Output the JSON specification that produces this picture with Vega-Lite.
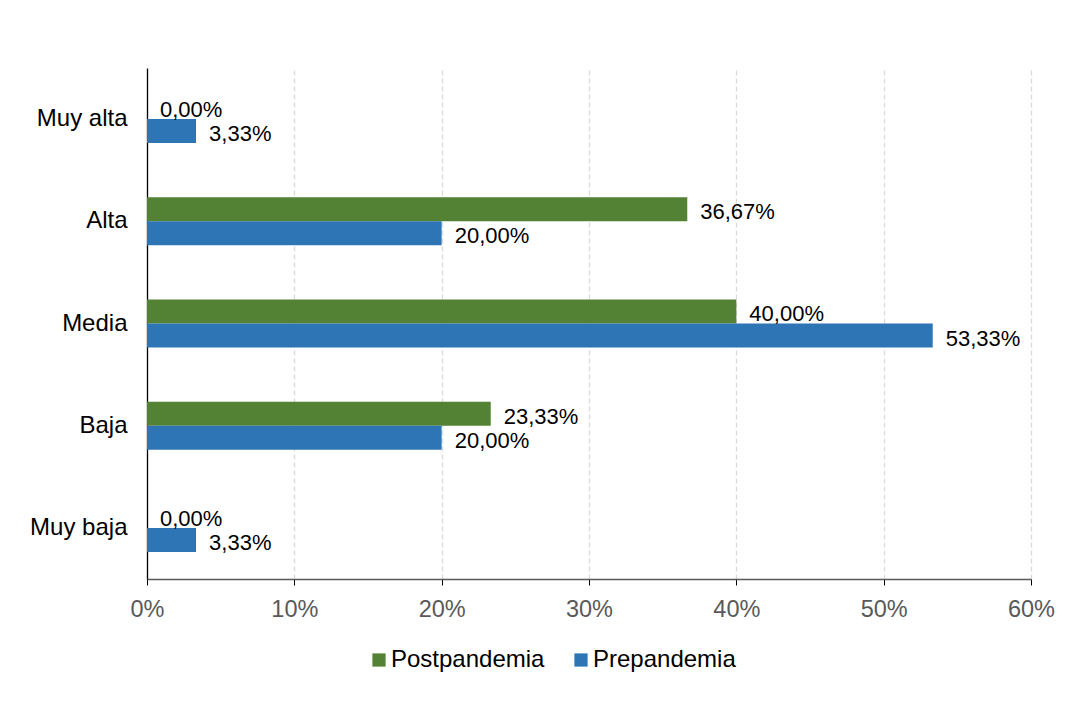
{
  "$schema": "https://vega.github.io/schema/vega-lite/v6.json",
  "width": 884,
  "height": 511,
  "autosize": {"type": "none"},
  "padding": {"left": 147, "top": 68, "right": 36, "bottom": 134},
  "background": "white",
  "config": {
    "font": "Liberation Sans",
    "view": {"stroke": null},
    "locale": {"number": {"decimal": ",", "thousands": ".", "grouping": [3], "currency": ["", " €"]}}
  },
  "data": {
    "values": [
      {"nivel": "Muy alta", "periodo": "Postpandemia", "valor": 0.0},
      {"nivel": "Muy alta", "periodo": "Prepandemia", "valor": 0.0333},
      {"nivel": "Alta", "periodo": "Postpandemia", "valor": 0.3667},
      {"nivel": "Alta", "periodo": "Prepandemia", "valor": 0.2},
      {"nivel": "Media", "periodo": "Postpandemia", "valor": 0.4},
      {"nivel": "Media", "periodo": "Prepandemia", "valor": 0.5333},
      {"nivel": "Baja", "periodo": "Postpandemia", "valor": 0.2333},
      {"nivel": "Baja", "periodo": "Prepandemia", "valor": 0.2},
      {"nivel": "Muy baja", "periodo": "Postpandemia", "valor": 0.0},
      {"nivel": "Muy baja", "periodo": "Prepandemia", "valor": 0.0333}
    ]
  },
  "encoding": {
    "y": {
      "field": "nivel", "type": "nominal",
      "sort": ["Muy alta", "Alta", "Media", "Baja", "Muy baja"],
      "scale": {"paddingInner": 0.53, "paddingOuter": 0.265},
      "axis": {
        "title": null, "ticks": false, "domainColor": "#000000", "domainWidth": 1.3,
        "labelFontSize": 24, "labelColor": "#000000", "labelPadding": 20, "grid": false
      }
    },
    "yOffset": {"field": "periodo", "type": "nominal", "sort": ["Postpandemia", "Prepandemia"]},
    "x": {
      "field": "valor", "type": "quantitative",
      "scale": {"domain": [0, 0.6], "nice": false},
      "axis": {
        "title": null, "format": ".0%", "values": [0, 0.1, 0.2, 0.3, 0.4, 0.5, 0.6],
        "labelFontSize": 23.5, "labelColor": "#595959", "labelPadding": 12, "labelFlush": false,
        "domainColor": "#595959", "domainWidth": 1.3, "tickColor": "#000000", "tickSize": 6,
        "grid": true, "gridColor": "#d9d9d9", "gridDash": [5, 3], "gridWidth": 1.3
      }
    }
  },
  "layer": [
    {
      "mark": {"type": "bar"},
      "encoding": {
        "color": {
          "field": "periodo", "type": "nominal",
          "scale": {"domain": ["Postpandemia", "Prepandemia"], "range": ["#548235", "#2E75B6"]},
          "legend": {
            "title": null, "orient": "none", "direction": "horizontal",
            "legendX": 220, "legendY": 580,
            "symbolType": "square", "symbolSize": 175, "symbolStrokeWidth": 0,
            "labelFontSize": 24, "labelColor": "#000000", "columnPadding": 24, "labelOffset": 0
          }
        }
      }
    },
    {
      "mark": {"type": "text", "align": "left", "baseline": "middle", "dx": 13, "dy": 3, "fontSize": 22, "color": "#000000"},
      "encoding": {
        "text": {"field": "valor", "type": "quantitative", "format": ".2%"}
      }
    }
  ]
}
